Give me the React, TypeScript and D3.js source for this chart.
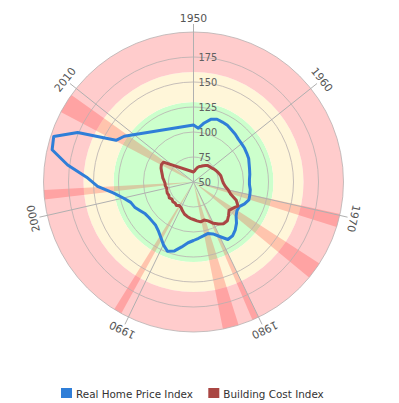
import React from "react";
import * as d3 from "d3";

const years = d3.range(1950, 2010);
const homePrice = [
  107, 104, 110, 115, 117, 116.5, 116, 114.5, 113.5, 112,
  111.5, 111.2, 110.5, 110, 108.5, 107.5, 106.8, 106, 106, 107.3,
  107.8, 108.2, 105.5, 102, 102, 104.5, 109.5, 113.5, 116.5, 117,
  110.5, 105.5, 103.5, 104.8, 106.5, 108.5, 111, 116, 121.5, 124,
  119.5, 114, 110, 107.5, 107, 107, 107.8, 110.5, 114, 116,
  122, 131, 146, 157, 177, 195, 197, 176, 138, 133,
];
const buildingCost = [
  60, 61, 63, 65, 66.5, 67.5, 69, 70.5, 71.8, 72.3,
  72.8, 74, 75, 76, 77, 78, 78.4, 79, 80, 82,
  85.7, 89, 96.5, 100.5, 97.5, 95.5, 98.5, 101.5, 101.5, 99,
  95.8, 91.5, 89.5, 90.5, 89, 87.5, 86.5, 85, 83.5, 81,
  78.5, 77.5, 79, 78, 78.5, 77.5, 79, 78, 78.5, 78,
  77.5, 78.5, 78.5, 79.5, 81, 82, 83.5, 85.3, 86.5, 86,
];
const recessionStarts = [1969.9, 1973.9, 1980.0, 1981.6, 1990.6, 2001.2, 2007.9];
const recessionEnds = [1970.9, 1975.2, 1980.5, 1982.8, 1991.2, 2001.9, 2009.4];
const decadeTicks = [1950, 1960, 1970, 1980, 1990, 2000, 2010];
const valueTicks = [50, 75, 100, 125, 150, 175];
const gridValues = [75, 100, 125, 150, 175, 200];
const bandFrom = [50, 130, 160];
const bandTo = [130, 160, 200];
const bandColors = ["#CCFFCC", "#FFF6D9", "#FFCCCC"];
const seriesNames = ["Real Home Price Index", "Building Cost Index"];
const seriesColors = ["#2f7ed8", "#AA4643"];

export default function App() {
  const cx = 193.5;
  const cy = 182;
  const x = d3.scaleLinear().domain([1950, 2020]).range([0, 2 * Math.PI]);
  const r = d3.scaleLinear().domain([50, 200]).range([0, 150]);

  const band = d3.arc<any>();
  const line = (vals: number[]) =>
    d3
      .lineRadial<number>()
      .angle((_, i) => x(years[i]))
      .radius((v) => r(v))
      .curve(d3.curveLinearClosed)(vals) || "";

  const font = "'DejaVu Sans', Verdana, sans-serif";

  return (
    <svg
      width={399}
      height={403}
      style={{ position: "absolute", left: 0, top: 0, background: "#fff" }}
    >
      <g transform={`translate(${cx},${cy})`}>
        {bandFrom.map((f, i) => (
          <path
            key={"b" + i}
            d={
              band({
                innerRadius: r(f),
                outerRadius: r(bandTo[i]),
                startAngle: 0,
                endAngle: 2 * Math.PI,
              }) || ""
            }
            fill={bandColors[i]}
          />
        ))}
        {recessionStarts.map((s, i) => (
          <path
            key={"w" + i}
            d={
              band({
                innerRadius: 0,
                outerRadius: r(200),
                startAngle: x(s),
                endAngle: x(recessionEnds[i]),
              }) || ""
            }
            fill="rgba(255,0,0,0.2)"
          />
        ))}
        {gridValues.map((v) => (
          <circle
            key={"g" + v}
            r={r(v)}
            fill="none"
            stroke="#b8b0b0"
            strokeOpacity={0.8}
            strokeWidth={1}
          />
        ))}
        {decadeTicks.map((t) => {
          const a = x(t);
          const s = Math.sin(a);
          const c = -Math.cos(a);
          return (
            <line
              key={"t" + t}
              x1={0}
              y1={0}
              x2={s * 158}
              y2={c * 158}
              stroke="#b0b0b0"
              strokeWidth={1}
            />
          );
        })}
        {decadeTicks.map((t) => {
          const a = x(t);
          const px = Math.sin(a) * 164;
          const py = -Math.cos(a) * 164;
          return (
            <text
              key={"l" + t}
              x={px}
              y={py}
              transform={`rotate(${(a * 180) / Math.PI},${px},${py})`}
              textAnchor="middle"
              dominantBaseline="central"
              fontFamily={font}
              fontSize={10.8}
              fill="#555"
            >
              {t}
            </text>
          );
        })}
        {valueTicks.map((v) => (
          <text
            key={"y" + v}
            x={5}
            y={-r(v) + 0.5}
            dominantBaseline="central"
            fontFamily={font}
            fontSize={9.8}
            fill="#606060"
          >
            {v}
          </text>
        ))}
        <path
          d={line(homePrice)}
          fill="none"
          stroke={seriesColors[0]}
          strokeWidth={3}
          strokeLinejoin="round"
        />
        <path
          d={line(buildingCost)}
          fill="none"
          stroke={seriesColors[1]}
          strokeWidth={3}
          strokeLinejoin="round"
        />
      </g>
      <g>
        {seriesNames.map((n, i) => {
          const lx = i === 0 ? 61 : 208.3;
          return (
            <g key={"lg" + i}>
              <rect x={lx} y={388} width={11} height={10} fill={seriesColors[i]} />
              <text
                x={lx + 15}
                y={397.5}
                fontFamily={font}
                fontSize={10.4}
                fill="#333"
              >
                {n}
              </text>
            </g>
          );
        })}
      </g>
    </svg>
  );
}
